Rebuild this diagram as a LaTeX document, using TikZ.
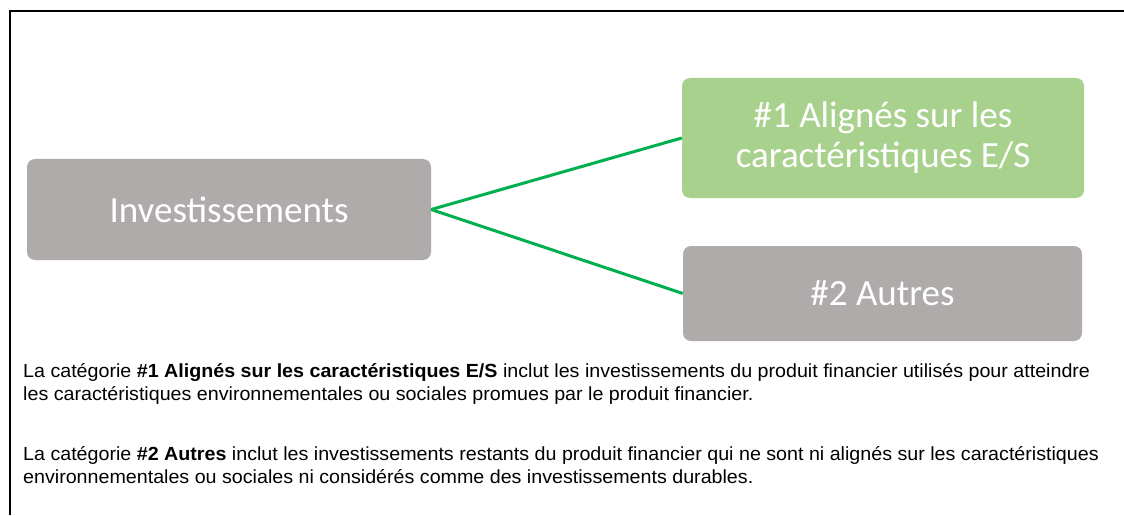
\documentclass[tikz,border=0pt]{standalone}
\usepackage{fontspec}
\setmainfont{Liberation Sans}
\newfontfamily\boxfont{Carlito}
\newfontfamily\notefont[FakeStretch=1.035]{Liberation Sans}
\definecolor{boxgray}{HTML}{AEABAA}
\definecolor{boxgreen}{HTML}{A9D18E}
\definecolor{linkgreen}{HTML}{00B050}
\begin{document}
\begin{tikzpicture}[x=1pt, y=1pt,
    cat/.style={rounded corners=8pt, text=white, align=center, inner sep=0pt,
      font=\boxfont\fontsize{37}{40}\selectfont},
    link/.style={draw=linkgreen, line width=3pt},
    note/.style={anchor=base west, align=left, inner sep=0pt,
      font=\notefont\fontsize{19}{23}\selectfont}]
         \useasboundingbox (0,0) rectangle (1124,515);
         % frame
         \draw[line width=2.5pt] (10,0) -- (10,504) -- (1124,504);
         %nodes
         \node[cat, fill=boxgray, minimum width=404pt, minimum height=101pt] at (229,305.5) (inv) {Investissements};
         \node[cat, fill=boxgreen, minimum width=402pt, minimum height=120pt] at (883,377) (align) {\#1 Alignés sur les\\caractéristiques E/S};
         \node[cat, fill=boxgray, minimum width=399pt, minimum height=95pt] at (882.5,221.5) (other) {\#2 Autres};
         % lines between nodes
         \draw[link] (inv.east) -- (align.west);
         \draw[link] (inv.east) -- (other.west);
         % notes (base = last line)
         \node[note] at (23,115) (nalign) {La catégorie \textbf{\#1 Alignés sur les caractéristiques E/S} inclut les investissements du produit financier utilisés pour atteindre\\les caractéristiques environnementales ou sociales promues par le produit financier.};
         \node[note] at (23,32) (nother) {La catégorie \textbf{\#2 Autres} inclut les investissements restants du produit financier qui ne sont ni alignés sur les caractéristiques\\environnementales ou sociales ni considérés comme des investissements durables.};
\end{tikzpicture}
\end{document}
